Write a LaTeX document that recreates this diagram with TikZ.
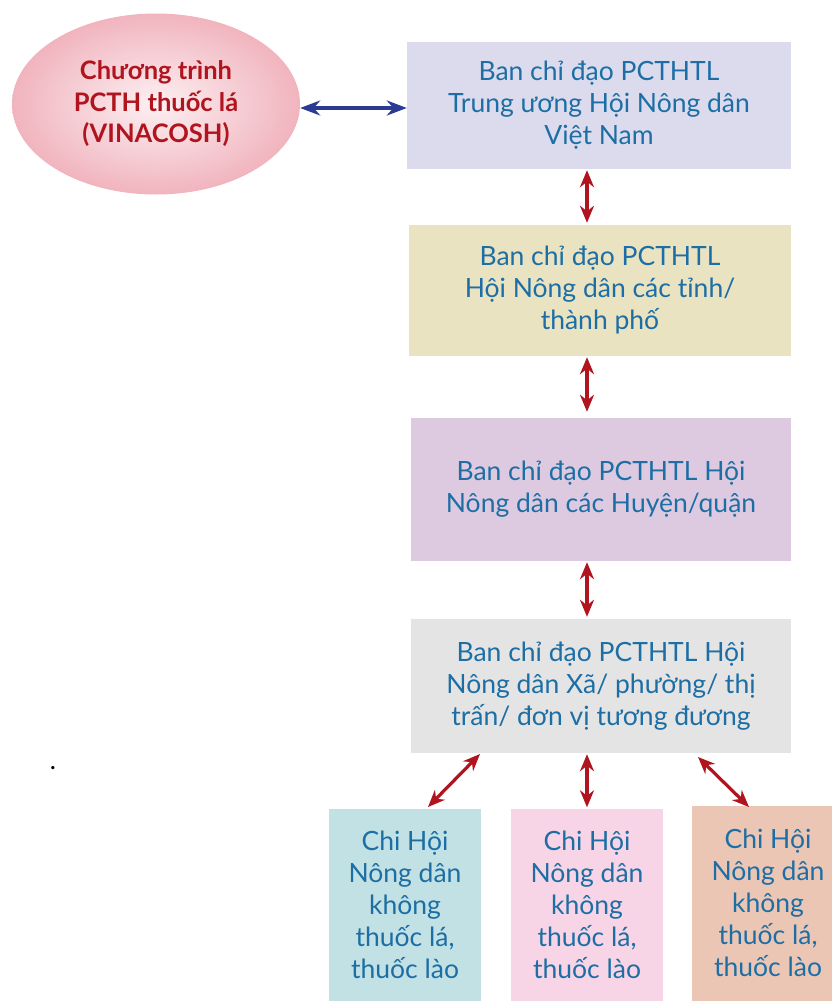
\documentclass[tikz,border=0pt]{standalone}
\usepackage{fontspec}
\setmainfont{Lato}
\usetikzlibrary{arrows.meta,shadings,shapes.geometric}

\definecolor{txtblue}{HTML}{1C6EA4}
\definecolor{darkred}{HTML}{B0141E}
\definecolor{navy}{HTML}{2B3A92}
\definecolor{lavender}{HTML}{DCDBEE}
\definecolor{sand}{HTML}{E9E3C2}
\definecolor{lilac}{HTML}{DECAE0}
\definecolor{lightgrey}{HTML}{E4E4E4}
\definecolor{aqua}{HTML}{C2E1E4}
\definecolor{rose}{HTML}{F8D5E6}
\definecolor{peach}{HTML}{ECC6B5}
\definecolor{pinkedge}{HTML}{F1B4BE}
\definecolor{pinkmid}{HTML}{FCF0F2}

\begin{document}
\begin{tikzpicture}[x=1pt, y=-1pt,
    level/.style={rectangle, inner sep=0pt, align=center, text=txtblue,
        font=\fontsize{26.5}{32}\selectfont},
    branch/.style={level, minimum width=152pt, minimum height=193pt},
    link/.style={draw=darkred, line width=3.2pt,
        {Stealth[length=17pt,width=14pt]}-{Stealth[length=17pt,width=14pt]}}
    ]
    \useasboundingbox[fill=white] (0,0) rectangle (831,1001);

    % programme
    \node[ellipse, minimum width=288pt, minimum height=181pt,
        inner color=pinkmid, outer color=pinkedge,
        align=center, text=darkred, font=\bfseries\fontsize{25.5}{31.5}\selectfont]
        (vinacosh) at (156,104) {Chương trình\\PCTH thuốc lá\\(VINACOSH)};

    % steering committees
    \node[level, fill=lavender, minimum width=384pt, minimum height=127pt]
        (central) at (599,105.5) {Ban chỉ đạo PCTHTL\\Trung ương Hội Nông dân\\Việt Nam};
    \node[level, fill=sand, minimum width=382pt, minimum height=131pt]
        (province) at (600,290.5) {Ban chỉ đạo PCTHTL\\Hội Nông dân các tỉnh/\\thành phố};
    \node[level, fill=lilac, minimum width=380pt, minimum height=143pt]
        (district) at (601,489.5) {Ban chỉ đạo PCTHTL Hội\\Nông dân các Huyện/quận};
    \node[level, fill=lightgrey, minimum width=380pt, minimum height=134pt]
        (commune) at (601,686) {Ban chỉ đạo PCTHTL Hội\\Nông dân Xã/ phường/ thị\\trấn/ đơn vị tương đương};

    % branches
    \node[branch, fill=aqua] (branchA) at (405,905) {Chi Hội\\Nông dân\\không\\thuốc lá,\\thuốc lào};
    \node[branch, fill=rose] (branchB) at (587,905) {Chi Hội\\Nông dân\\không\\thuốc lá,\\thuốc lào};
    \node[branch, fill=peach, minimum height=195pt] (branchC) at (768,903) {Chi Hội\\Nông dân\\không\\thuốc lá,\\thuốc lào};

    \node[font=\fontsize{26}{30}\selectfont] (dot) at (53,768) {.};

    % connectors
    \draw[navy, line width=3.2pt, {Stealth[length=20pt,width=15pt]}-{Stealth[length=20pt,width=15pt]}]
        ([yshift=-4pt]vinacosh.east) -- ([yshift=-2.5pt]central.west);
    \draw[link] ([yshift=-1pt]central.south -| 587,0) -- ([yshift=2pt]province.north -| 587,0);
    \draw[link] ([yshift=-1pt]province.south -| 587,0) -- ([yshift=6pt]district.north -| 587,0);
    \draw[link] ([yshift=-1pt]district.south -| 587,0) -- ([yshift=2pt]commune.north -| 587,0);
    \draw[link] ([yshift=-1pt]commune.south -| 587,0) -- ([yshift=1pt]branchB.north);

    \coordinate (leftTop) at (480,754);
    \coordinate (leftEnd) at (428,807);
    \coordinate (rightTop) at (698,757);
    \coordinate (rightEnd) at (749,807);
    \draw[link] (leftTop) -- (leftEnd);
    \draw[link] (rightTop) -- (rightEnd);
\end{tikzpicture}
\end{document}
